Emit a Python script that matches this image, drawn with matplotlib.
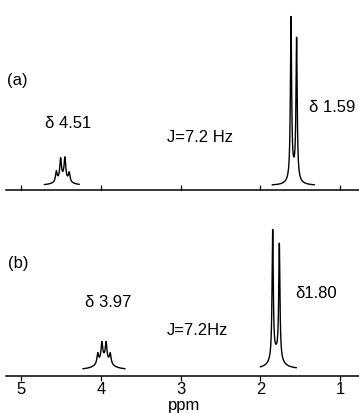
import numpy as np
import matplotlib
matplotlib.use('Agg')
import matplotlib.pyplot as plt

plt.rcParams['font.family'] = ['Liberation Sans', 'DejaVu Sans']

W, H = 359, 413

# eixo de deslocamento quimico (ppm)
ticks_ppm = [5, 4, 3, 2, 1]
tick_labels = ['5', '4', '3', '2', '1']

# (a) quarteto em 4.51 e dubleto em 1.59 (posicao das linhas em ppm, altura em px)
a_q_ppm = [4.561, 4.507, 4.453, 4.399]
a_q_alt = [10, 20, 21, 9]
a_d_ppm = [1.616, 1.546]
a_d_alt = [160, 139]

# (b) quarteto em 3.97 e dubleto em 1.80
b_q_ppm = [4.041, 3.989, 3.936, 3.884]
b_q_alt = [10, 17, 17, 10]
b_d_ppm = [1.846, 1.7625]
b_d_alt = [128, 114]

# faixa registrada de cada multipleto (ppm)
a_q_faixa = (4.71, 4.275)
a_d_faixa = (1.85, 1.325)
b_q_faixa = (4.225, 3.70)
b_d_faixa = (2.00, 1.55)


def espectro(linhas, alturas, w, base_h, base_w, offset, faixa):
    # soma de lorentzianas sobre um pedestal largo
    x = np.linspace(faixa[0], faixa[1], 1500)
    centro = np.mean(linhas)
    y = offset + base_h / (1 + ((x - centro) / base_w) ** 2)
    for p, h in zip(linhas, alturas):
        y = y + h / (1 + ((x - p) / w) ** 2)
    return x, y


# escala: 5 ppm em x=21.3 px, 79.7 px por ppm
def px_para_ppm(px):
    return 5 - (px - 21.3) / 79.7


fig = plt.figure(figsize=(W / 100, H / 100), dpi=100)

base_a = 189.5
base_b = 376.0
ax_a = fig.add_axes([0, (H - base_a) / H, 1, base_a / H])
ax_b = fig.add_axes([0, (H - base_b) / H, 1, (base_b - 195) / H])

for ax, altura in [(ax_a, base_a), (ax_b, base_b - 195)]:
    ax.set_xlim(px_para_ppm(0), px_para_ppm(W))
    ax.set_ylim(0, altura)
    ax.patch.set_alpha(0)
    for lado in ['left', 'right', 'top']:
        ax.spines[lado].set_visible(False)
    ax.spines['bottom'].set_linewidth(1.1)
    ax.spines['bottom'].set_bounds(px_para_ppm(6), px_para_ppm(W))
    ax.set_yticks([])
    ax.set_xticks(ticks_ppm)

ax_a.tick_params(axis='x', direction='in', length=3.5, width=0.9, labelbottom=False)
ax_b.set_xticklabels(tick_labels)
ax_b.tick_params(axis='x', direction='out', length=3.5, width=0.9, labelsize=12, pad=1)

cor = 'black'
x, y = espectro(a_q_ppm, a_q_alt, 0.012, 7, 0.08, 4, a_q_faixa)
ax_a.plot(x, y, color=cor, lw=1.0)
x, y = espectro(a_d_ppm, a_d_alt, 0.009, 10, 0.05, 4, a_d_faixa)
ax_a.plot(x, y, color=cor, lw=1.0)
x, y = espectro(b_q_ppm, b_q_alt, 0.012, 11, 0.09, 6, b_q_faixa)
ax_b.plot(x, y, color=cor, lw=1.0)
x, y = espectro(b_d_ppm, b_d_alt, 0.009, 14, 0.07, 7, b_d_faixa)
ax_b.plot(x, y, color=cor, lw=1.0)

rotulos = [
    ('(a)', 7, 85),
    ('δ 4.51', 45, 128),
    ('J=7.2 Hz', 167, 142),
    ('δ 1.59', 309, 112),
    ('(b)', 8, 268),
    ('δ 3.97', 85, 307),
    ('J=7.2Hz', 167, 335),
    ('δ1.80', 295, 298),
]
for texto, px, py in rotulos:
    fig.text(px / W, 1 - py / H, texto, ha='left', va='baseline', fontsize=12)

fig.text(184.5 / W, 1 - 410 / H, 'ppm', ha='center', va='baseline', fontsize=12)

fig.savefig('out.png', dpi=100)
